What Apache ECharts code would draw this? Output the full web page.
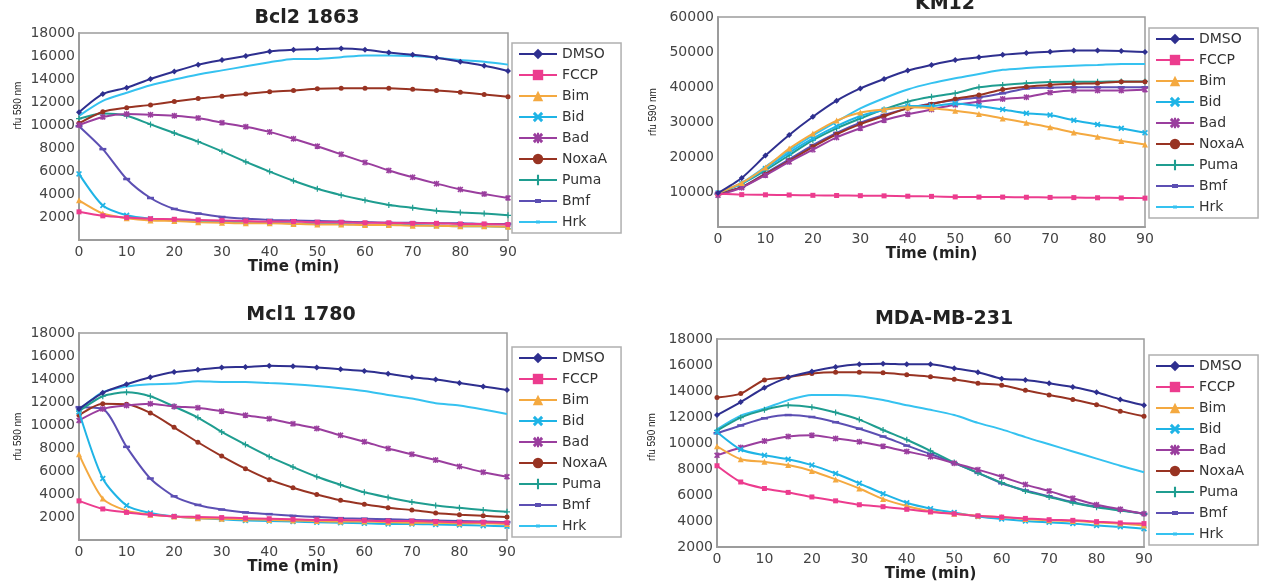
<!DOCTYPE html>
<html><head><meta charset="utf-8">
<script src="https://cdn.jsdelivr.net/npm/echarts@6/dist/echarts.min.js"></script>
<style>html,body{margin:0;padding:0;background:#fff}#c{width:1262px;height:586px}</style>
</head><body><div id="c"></div>
<script>
// ---------- DATA ----------
const times = [0,5,10,15,20,25,30,35,40,45,50,55,60,65,70,75,80,85,90];
const seriesNames = ['DMSO','FCCP','Bim','Bid','Bad','NoxaA','Puma','Bmf','Hrk'];
const panelTitles = ['Bcl2 1863','KM12','Mcl1 1780','MDA-MB-231'];
const xAxisTitle = 'Time (min)';
const yAxisTitle = 'rfu 590 nm';

// Bcl2 1863
const bcl2DMSO  = [11100,12700,13250,14000,14650,15250,15650,16000,16400,16550,16600,16650,16550,16300,16100,15850,15500,15150,14700];
const bcl2FCCP  = [2450,2100,1950,1850,1800,1750,1700,1650,1600,1600,1550,1550,1500,1500,1450,1450,1400,1400,1350];
const bcl2Bim   = [3450,2300,1900,1700,1650,1550,1500,1450,1450,1400,1350,1350,1300,1300,1250,1250,1200,1200,1150];
const bcl2Bid   = [5750,3000,2150,1850,1750,1650,1600,1550,1500,1450,1400,1400,1350,1300,1300,1250,1200,1200,1150];
const bcl2Bad   = [10000,10700,10950,10900,10800,10600,10200,9850,9400,8800,8150,7450,6750,6050,5450,4900,4400,4000,3650];
const bcl2NoxaA = [10150,11150,11500,11750,12050,12300,12500,12700,12900,13000,13150,13200,13200,13200,13100,13000,12850,12650,12450];
const bcl2Puma  = [10550,11000,10800,10050,9300,8550,7700,6800,5950,5150,4450,3900,3450,3050,2800,2550,2400,2300,2150];
const bcl2Bmf   = [9900,7900,5300,3650,2700,2300,2000,1850,1750,1700,1650,1600,1550,1500,1500,1450,1450,1400,1400];
const bcl2Hrk   = [10800,12100,12800,13450,13950,14400,14750,15100,15450,15750,15750,15900,16050,16050,16000,15850,15650,15500,15250];

// KM12
const km12DMSO  = [9700,14000,20400,26300,31500,36100,39600,42300,44700,46300,47700,48500,49200,49700,50100,50400,50400,50300,50000];
const km12FCCP  = [9500,9250,9200,9150,9050,9000,8950,8900,8800,8750,8600,8550,8550,8500,8450,8400,8350,8300,8250];
const km12Bim   = [9700,12600,17000,22400,26700,30400,32700,33600,34200,33900,33200,32300,31000,29800,28500,27000,25800,24600,23600];
const km12Bid   = [9700,12400,16700,21200,25300,28800,31700,33400,34600,34600,35300,34600,33600,32500,32000,30500,29300,28200,26900];
const km12Bad   = [9050,11250,14800,18600,22100,25600,28200,30500,32200,33600,34900,35800,36600,37100,38400,39000,39000,39000,39200];
const km12NoxaA = [9500,11400,15100,18900,22900,26500,29400,31700,33900,35100,36600,37700,39300,40100,40600,40900,41100,41500,41500];
const km12Puma  = [9700,12400,16200,20500,24800,28200,31000,33600,35800,37200,38200,39900,40600,41100,41400,41500,41500,41600,41600];
const km12Bmf   = [9500,11400,15300,19300,23400,26900,29800,32000,33900,35300,36300,37000,38200,39600,39800,39900,39900,39900,39900];
const km12Hrk   = [9700,12600,17200,21900,26200,30100,33900,36800,39300,41100,42500,43700,44900,45400,45800,46100,46300,46600,46600];

// Mcl1 1780
const mcl1DMSO  = [11400,12800,13550,14150,14600,14800,15000,15050,15150,15100,15000,14850,14700,14450,14150,13950,13650,13350,13050];
const mcl1FCCP  = [3400,2700,2400,2200,2050,2000,1950,1900,1850,1800,1750,1750,1700,1650,1650,1600,1550,1550,1500];
const mcl1Bim   = [7450,3600,2550,2200,2050,1900,1850,1800,1750,1700,1650,1600,1600,1550,1500,1500,1450,1450,1400];
const mcl1Bid   = [11150,5350,3000,2350,2050,1900,1800,1700,1650,1600,1550,1500,1450,1400,1400,1350,1300,1250,1200];
const mcl1Bad   = [10400,11400,11700,11850,11600,11500,11200,10850,10550,10100,9700,9100,8550,7950,7450,6950,6400,5900,5500];
const mcl1NoxaA = [10850,11850,11800,11050,9800,8500,7300,6200,5250,4550,3950,3450,3100,2800,2600,2350,2200,2100,2000];
const mcl1Puma  = [11200,12500,12850,12500,11600,10650,9400,8300,7250,6350,5500,4800,4150,3700,3300,3000,2800,2600,2450];
const mcl1Bmf   = [11550,11400,8100,5350,3800,3050,2650,2400,2250,2100,2000,1900,1850,1800,1750,1700,1650,1600,1550];
const mcl1Hrk   = [11300,12850,13350,13550,13600,13800,13750,13750,13650,13550,13400,13200,12950,12600,12300,11900,11700,11350,10950];

// MDA-MB-231
const mdaDMSO  = [12150,13150,14250,15050,15500,15850,16050,16100,16050,16050,15750,15450,14950,14850,14600,14300,13900,13350,12900];
const mdaFCCP  = [8250,7000,6500,6200,5850,5550,5250,5100,4900,4700,4550,4400,4300,4200,4100,4050,3950,3850,3800];
const mdaBim   = [9750,8750,8550,8300,7850,7200,6500,5700,5150,4750,4550,4400,4300,4150,4050,4000,3900,3800,3650];
const mdaBid   = [10850,9500,9050,8750,8300,7650,6900,6100,5400,4950,4650,4350,4150,4000,3900,3800,3650,3550,3400];
const mdaBad   = [9050,9650,10150,10500,10600,10350,10100,9750,9350,8950,8450,7950,7400,6800,6300,5750,5250,4900,4550];
const mdaNoxaA = [13500,13800,14850,15050,15350,15450,15450,15400,15250,15100,14900,14600,14450,14050,13700,13350,12950,12450,12050];
const mdaPuma  = [10950,11950,12550,12900,12750,12350,11800,11000,10250,9400,8500,7700,6950,6300,5850,5400,5050,4800,4550];
const mdaBmf   = [10750,11350,11900,12150,12000,11600,11100,10500,9800,9150,8450,7700,6900,6350,5900,5450,5100,4850,4550];
const mdaHrk   = [11050,12100,12650,13300,13700,13700,13600,13300,12900,12550,12150,11550,11050,10450,9900,9350,8800,8250,7750];

const panelData = [
  [bcl2DMSO,bcl2FCCP,bcl2Bim,bcl2Bid,bcl2Bad,bcl2NoxaA,bcl2Puma,bcl2Bmf,bcl2Hrk],
  [km12DMSO,km12FCCP,km12Bim,km12Bid,km12Bad,km12NoxaA,km12Puma,km12Bmf,km12Hrk],
  [mcl1DMSO,mcl1FCCP,mcl1Bim,mcl1Bid,mcl1Bad,mcl1NoxaA,mcl1Puma,mcl1Bmf,mcl1Hrk],
  [mdaDMSO,mdaFCCP,mdaBim,mdaBid,mdaBad,mdaNoxaA,mdaPuma,mdaBmf,mdaHrk]
];
const yMin = [0,0,0,2000];
const yMax = [18000,60000,18000,18000];
const yStep = [2000,10000,2000,2000];

// ---------- STYLE ----------
const colors = ['#2E2F8F','#EC3C8E','#F4A940','#1FB4E6','#9A3E9E','#983322','#1F9D90','#5C4FB3','#35C2F0'];
const xShape = 'path://M0,2L2,0L5,3L8,0L10,2L7,5L10,8L8,10L5,7L2,10L0,8L3,5Z';
const starShape = 'path://M0,2L2,0L5,3L8,0L10,2L7,5L10,8L8,10L5,7L2,10L0,8L3,5Z M4,0L6,0L6,10L4,10Z';
const plusShape = 'path://M4,0L6,0L6,4L10,4L10,6L6,6L6,10L4,10L4,6L0,6L0,4L4,4Z';
const symbols = ['diamond','rect','triangle', xShape, starShape, 'circle', plusShape, 'rect', 'none'];
const symSizes = [6,5,6,6,6,5,6,[7,2.5],4];
// legend icons for the two series whose marker is a dash / absent
const dashIcon = 'path://M0,0L0.01,0L0,0.01Z M38,13L37.99,13L38,12.99Z M0,5.6L38,5.6L38,7.4L0,7.4Z M16,4.6L22,4.6L22,8.4L16,8.4Z';
const lineIcon = 'path://M0,0L0.01,0L0,0.01Z M38,13L37.99,13L38,12.99Z M0,5.6L38,5.6L38,7.4L0,7.4Z M17,5.1L21,5.1L21,7.9L17,7.9Z';

const grids = [
  {left:79, top:33, width:429, height:207},
  {left:718, top:17, width:427, height:210},
  {left:79, top:333, width:428, height:207},
  {left:717, top:339, width:427, height:208}
];
const titlePos = [{x:302,y:4},{x:940,y:-10},{x:296,y:301},{x:939,y:305}];
const legendPos = [{left:512,top:43},{left:1149,top:28},{left:512,top:347},{left:1149,top:355}];
const xNameGap = [16,17,14,15];
const yNameGap = [56,60,56,60];
const yNameShift = [62,20,0,12];

const FONT = 'DejaVu Sans';
const legendData = seriesNames.map((n,s)=> s===7 ? {name:n, icon:dashIcon} : s===8 ? {name:n, icon:lineIcon} : {name:n});
const option = {
  animation:false,
  backgroundColor:'#fff',
  title: panelTitles.map((t,i)=>({
    text:t, left:titlePos[i].x, top:titlePos[i].y, textAlign:'center',
    textStyle:{fontFamily:FONT, fontWeight:'bold', fontSize:19, color:'#222'}
  })),
  grid: grids.map(g=>Object.assign({show:true, borderColor:'#9c9c9c', borderWidth:1.5, backgroundColor:'transparent'}, g)),
  xAxis: grids.map((g,i)=>({
    type:'value', gridIndex:i, min:0, max:90, interval:10,
    name:xAxisTitle, nameLocation:'middle', nameGap:xNameGap[i],
    nameTextStyle:{fontFamily:FONT, fontWeight:'bold', fontSize:15, color:'#222'},
    axisLine:{show:true, onZero:false, lineStyle:{color:'#9c9c9c', width:2}},
    axisTick:{show:false}, splitLine:{show:false},
    axisLabel:{fontFamily:FONT, fontSize:14, color:'#444', margin:5}
  })),
  yAxis: grids.map((g,i)=>({
    type:'value', gridIndex:i, min:yMin[i], max:yMax[i], interval:yStep[i],
    name:yAxisTitle, nameLocation:'middle', nameGap:yNameGap[i], nameRotate:90,
    nameTextStyle:{fontFamily:'Liberation Sans', fontSize:10, color:'#222', padding:[0,0,0,yNameShift[i]]},
    axisLine:{show:true, lineStyle:{color:'#9c9c9c', width:2}},
    axisTick:{show:false}, splitLine:{show:false},
    axisLabel:{fontFamily:FONT, fontSize:14, color:'#444', margin:4, showMinLabel: i===3,
      formatter:(v)=>String(v)}
  })),
  legend: legendPos.map(p=>({
    data:legendData, orient:'vertical', left:p.left, top:p.top,
    backgroundColor:'#fff', borderColor:'#b0b0b0', borderWidth:1.5, borderRadius:0,
    padding:[4,14,4,6], itemGap:7, itemWidth:38, itemHeight:13, itemTextGap:5,
    selectedMode:false,
    textStyle:{fontFamily:FONT, fontSize:14, color:'#333', lineHeight:13}
  })),
  series: []
};
panelData.forEach((arrs,p)=>{
  arrs.forEach((vals,s)=>{
    option.series.push({
      type:'line', name:seriesNames[s], xAxisIndex:p, yAxisIndex:p,
      data: times.map((t,k)=>[t, vals[k]]),
      symbol:symbols[s], symbolSize:symSizes[s], showSymbol: symbols[s]!=='none',
      smooth:0.25,
      lineStyle:{color:colors[s], width:2},
      itemStyle:{color:colors[s]},
      z: 10 - s
    });
  });
});
const chart = echarts.init(document.getElementById('c'), null, {renderer:'canvas'});
chart.setOption(option);
</script></body></html>
